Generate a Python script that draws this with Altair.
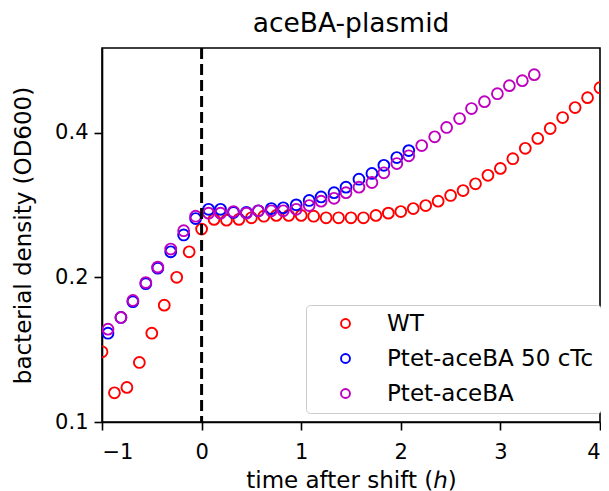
import altair as alt
import pandas as pd

# ---- data ----
wt_time = [-1.0, -0.875, -0.75, -0.625, -0.5, -0.375, -0.25, -0.125, 0.0, 0.125,
           0.25, 0.375, 0.5, 0.625, 0.75, 0.875, 1.0, 1.125, 1.25, 1.375,
           1.5, 1.625, 1.75, 1.875, 2.0, 2.125, 2.25, 2.375, 2.5, 2.625,
           2.75, 2.875, 3.0, 3.125, 3.25, 3.375, 3.5, 3.625, 3.75, 3.875, 4.0]
wt_od = [0.140, 0.115, 0.118, 0.133, 0.153, 0.175, 0.200, 0.226, 0.252, 0.264,
         0.263, 0.264, 0.266, 0.268, 0.269, 0.269, 0.269, 0.268, 0.266, 0.266,
         0.266, 0.266, 0.269, 0.272, 0.274, 0.278, 0.282, 0.288, 0.296, 0.303,
         0.313, 0.326, 0.337, 0.353, 0.371, 0.389, 0.408, 0.430, 0.451, 0.473, 0.496]

tc_time = [-0.94, -0.81, -0.69, -0.56, -0.44, -0.31, -0.18, -0.06, 0.07, 0.19,
           0.32, 0.45, 0.57, 0.70, 0.82, 0.95, 1.08, 1.20, 1.33, 1.45,
           1.58, 1.71, 1.83, 1.96, 2.08]
tc_od = [0.153, 0.165, 0.178, 0.194, 0.209, 0.226, 0.245, 0.265, 0.277, 0.277,
         0.273, 0.273, 0.275, 0.278, 0.279, 0.283, 0.289, 0.294, 0.300, 0.308,
         0.320, 0.329, 0.342, 0.355, 0.367]

pl_time = [-0.94, -0.81, -0.69, -0.56, -0.44, -0.31, -0.18, -0.06, 0.07, 0.19,
           0.32, 0.45, 0.57, 0.70, 0.82, 0.95, 1.08, 1.20, 1.33, 1.45,
           1.58, 1.71, 1.83, 1.96, 2.08, 2.21, 2.34, 2.46, 2.59, 2.71,
           2.84, 2.97, 3.09, 3.22, 3.34]
pl_od = [0.156, 0.165, 0.179, 0.195, 0.210, 0.229, 0.250, 0.268, 0.272, 0.272,
         0.274, 0.272, 0.275, 0.275, 0.275, 0.277, 0.282, 0.288, 0.292, 0.300,
         0.308, 0.315, 0.330, 0.345, 0.358, 0.376, 0.392, 0.410, 0.428, 0.449,
         0.464, 0.482, 0.501, 0.513, 0.528]

series_names = ["WT", "Ptet-aceBA 50 cTc", "Ptet-aceBA"]
series_colors = ["#ff0000", "#0000ff", "#bf00bf"]
x_ticks = [-1, 0, 1, 2, 3, 4]
y_ticks = [0.1, 0.2, 0.4]
shift_time = [0]

rows = []
for name, ts, vs in zip(series_names, [wt_time, tc_time, pl_time], [wt_od, tc_od, pl_od]):
    for t, v in zip(ts, vs):
        rows.append({"t": t, "od": v, "strain": name})
df = pd.DataFrame(rows)

FONT = "DejaVu Sans"

points = alt.Chart(df).mark_point(
    shape="circle", filled=False, size=118, strokeWidth=1.9, opacity=1, clip=True
).encode(
    x=alt.X("t:Q",
            scale=alt.Scale(domain=[-1, 4], nice=False, zero=False),
            axis=alt.Axis(values=x_ticks, format="d", title="time after shift (ℎ)",
                          labelExpr="replace(datum.label, '-', '−')",
                          labelPadding=11, titlePadding=7)),
    y=alt.Y("od:Q",
            scale=alt.Scale(type="log", domain=[0.1, 0.6], nice=False),
            axis=alt.Axis(values=y_ticks, format=".1f",
                          title="bacterial density (OD600)", titlePadding=19)),
    color=alt.Color("strain:N",
                    scale=alt.Scale(domain=series_names, range=series_colors),
                    sort=series_names,
                    legend=alt.Legend(title=None, orient="none", legendX=204, legendY=257,
                                      padding=7, strokeColor="#cccccc", fillColor="white",
                                      cornerRadius=4, symbolType="circle", symbolSize=80,
                                      symbolStrokeWidth=1.9, labelFontSize=23, labelFont=FONT,
                                      labelColor="black", rowPadding=11, symbolOffset=21,
                                      labelOffset=30, labelLimit=400)),
)

rule = alt.Chart(pd.DataFrame({"t": shift_time})).mark_rule(
    color="black", strokeWidth=3, strokeDash=[11, 5]
).encode(x="t:Q")

chart = alt.layer(points, rule).properties(
    width=498, height=374,
    title=alt.TitleParams("aceBA-plasmid", fontSize=26.5, font=FONT, fontWeight="normal",
                          color="black", anchor="middle", offset=9),
    autosize=alt.AutoSizeParams(type="none"),
    padding={"left": 94, "top": 40, "right": 1, "bottom": 69},
).configure_view(
    stroke="black", strokeWidth=1.6
).configure_axis(
    grid=False, domainColor="black", domainWidth=1.6, tickColor="black", tickWidth=1.6,
    tickSize=8, labelColor="black", titleColor="black", labelFont=FONT, titleFont=FONT,
    labelFontSize=21, titleFontSize=23, titleFontWeight="normal", labelPadding=6
)

chart.save("out.html", embed_options={"renderer": "svg", "actions": False})
